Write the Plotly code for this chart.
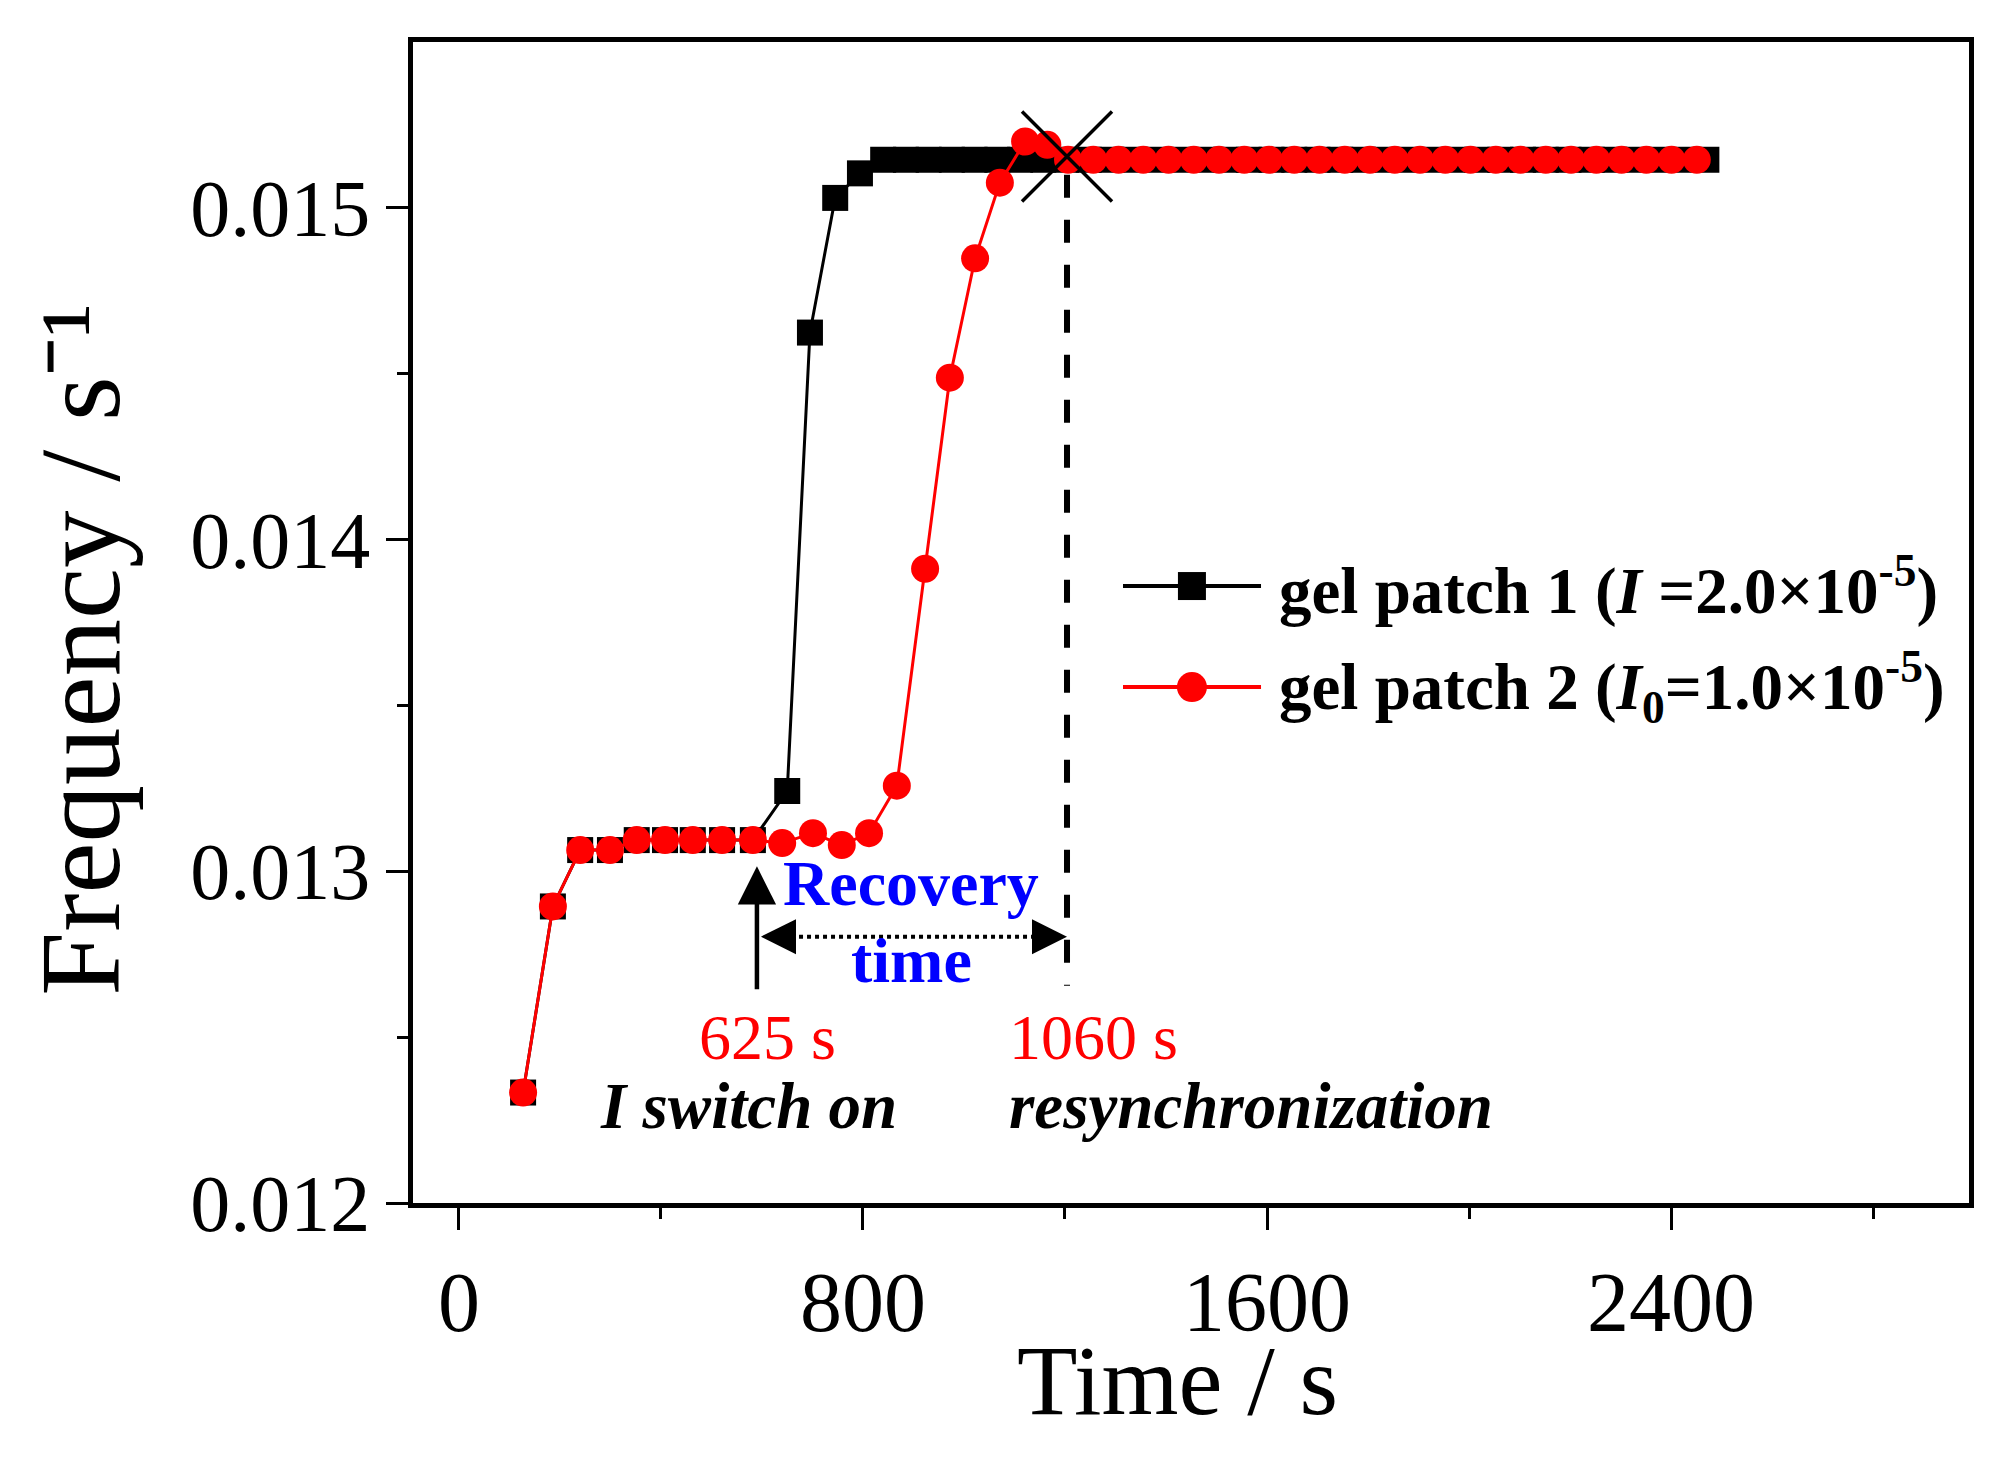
import plotly.graph_objects as go

# ---- data ----
time_patch1 = [127, 186, 240, 299, 352, 408, 463, 521, 582, 650, 695, 745, 794,
               840, 885, 930, 976, 1021, 1066, 1111, 1157, 1202, 1247, 1292, 1338,
               1383, 1428, 1473, 1519, 1564, 1609, 1654, 1700, 1745, 1790, 1835,
               1881, 1926, 1971, 2016, 2062, 2107, 2152, 2197, 2243, 2288, 2333,
               2378, 2424, 2470]
freq_patch1 = [0.012333, 0.012894, 0.013064, 0.013064, 0.013094, 0.013094, 0.013094,
               0.013094, 0.013094, 0.013242, 0.014624, 0.015030, 0.015104,
               0.015145, 0.015145, 0.015145, 0.015145, 0.015145, 0.015145, 0.015145,
               0.015145, 0.015145, 0.015145, 0.015145, 0.015145, 0.015145, 0.015145,
               0.015145, 0.015145, 0.015145, 0.015145, 0.015145, 0.015145, 0.015145,
               0.015145, 0.015145, 0.015145, 0.015145, 0.015145, 0.015145, 0.015145,
               0.015145, 0.015145, 0.015145, 0.015145, 0.015145, 0.015145, 0.015145,
               0.015145, 0.015145]

time_patch2 = [127, 186, 240, 299, 352, 408, 463, 521, 582, 640, 701, 758, 812, 867,
               923, 972, 1022, 1071, 1121, 1165, 1206, 1256, 1306, 1355, 1405, 1455,
               1505, 1555, 1604, 1654, 1704, 1754, 1804, 1853, 1903, 1953, 2003, 2053,
               2102, 2152, 2202, 2252, 2302, 2351, 2401, 2451]
freq_patch2 = [0.012333, 0.012894, 0.013064, 0.013064, 0.013094, 0.013094, 0.013094,
               0.013094, 0.013094, 0.013085, 0.013115, 0.013079, 0.013115, 0.013258,
               0.013912, 0.014488, 0.014848, 0.015076, 0.015200, 0.015190, 0.015145,
               0.015145, 0.015145, 0.015145, 0.015145, 0.015145, 0.015145, 0.015145,
               0.015145, 0.015145, 0.015145, 0.015145, 0.015145, 0.015145, 0.015145,
               0.015145, 0.015145, 0.015145, 0.015145, 0.015145, 0.015145, 0.015145,
               0.015145, 0.015145, 0.015145, 0.015145]

# annotation anchor points (axis units, as placed in the picture)
switch_on_time = 590          # labelled "625 s"
resync_time = [1204]          # labelled "1060 s"
resync_freq = [0.015155]

x_tick_vals = [0, 800, 1600, 2400]
x_tick_text = ["0", "800", "1600", "2400"]
y_tick_vals = [0.012, 0.013, 0.014, 0.015]
y_tick_text = ["0.012", "0.013", "0.014", "0.015"]

series_names = ["gel patch 1 (<i>I</i> =2.0×10<sup>-5</sup>)",
                "gel patch 2 (<i>I</i><sub>0</sub>=1.0×10<sup>-5</sup>)"]

FONT = "Liberation Serif, Times New Roman, serif"
RED = "#FF0000"

fig = go.Figure()
fig.add_trace(go.Scatter(x=time_patch1, y=freq_patch1, mode="lines+markers",
                         name=series_names[0],
                         line=dict(color="black", width=3),
                         marker=dict(symbol="square", size=26, color="black")))
fig.add_trace(go.Scatter(x=time_patch2, y=freq_patch2, mode="lines+markers",
                         name=series_names[1],
                         line=dict(color=RED, width=3),
                         marker=dict(symbol="circle", size=28, color=RED)))
fig.add_trace(go.Scatter(x=resync_time, y=resync_freq, mode="markers",
                         marker=dict(symbol="x-thin", size=90,
                                     line=dict(color="black", width=3.5)),
                         showlegend=False, hoverinfo="skip"))

# vertical dashed line at resynchronization
fig.add_shape(type="line", xref="x", yref="y", x0=resync_time[0], x1=resync_time[0],
              y0=0.01510, y1=0.012655, line=dict(color="black", width=6, dash="23px,22px"))
# dotted recovery-time line
fig.add_shape(type="line", xref="x", yref="y", x0=switch_on_time + 20, x1=resync_time[0] - 20,
              y0=0.012803, y1=0.012803, line=dict(color="black", width=4, dash="dot"))

ann = []
# up arrow at switch on
ann.append(dict(x=switch_on_time, y=0.013015, ax=switch_on_time, ay=0.01264,
                xref="x", yref="y", axref="x", ayref="y", text="", showarrow=True,
                arrowhead=2, arrowsize=1.7, arrowwidth=4.5, arrowcolor="black", standoff=0))
# horizontal arrow heads
ann.append(dict(x=switch_on_time + 8, y=0.012803, ax=36, ay=0, xref="x", yref="y",
                text="", showarrow=True, arrowhead=2, arrowsize=2.0, arrowwidth=3.5,
                arrowcolor="black", standoff=0))
ann.append(dict(x=resync_time[0], y=0.012803, ax=-36, ay=0, xref="x", yref="y",
                text="", showarrow=True, arrowhead=2, arrowsize=2.0, arrowwidth=3.5,
                arrowcolor="black", standoff=0))
# texts
ann.append(dict(x=895, y=0.012964, xref="x", yref="y", text="<b>Recovery</b>",
                showarrow=False, font=dict(family=FONT, size=64, color="#0000FF")))
ann.append(dict(x=897, y=0.012730, xref="x", yref="y", text="<b>time</b>",
                showarrow=False, font=dict(family=FONT, size=64, color="#0000FF")))
ann.append(dict(x=610, y=0.012500, xref="x", yref="y", text="625 s",
                showarrow=False, font=dict(family=FONT, size=64, color=RED)))
ann.append(dict(x=573, y=0.012293, xref="x", yref="y", text="<b><i>I switch on</i></b>",
                showarrow=False, font=dict(family=FONT, size=65, color="black")))
ann.append(dict(x=1257, y=0.012500, xref="x", yref="y", text="1060 s",
                showarrow=False, font=dict(family=FONT, size=64, color=RED)))
ann.append(dict(x=1569, y=0.012293, xref="x", yref="y", text="<b><i>resynchronization</i></b>",
                showarrow=False, font=dict(family=FONT, size=65, color="black")))

# axis titles
ann.append(dict(x=0.4916, y=-0.1525, xref="paper", yref="paper", xanchor="center",
                yanchor="middle", text="Time / s", showarrow=False,
                font=dict(family=FONT, size=99, color="black")))
ann.append(dict(x=-0.2135, y=0.4772, xref="paper", yref="paper", xanchor="center",
                yanchor="middle", text="Frequency / s\u207b\u00b9", textangle=-90,
                showarrow=False, font=dict(family=FONT, size=115, color="black")))

# manual legend (long line samples like the reference)
leg_rows = [(0.5314, "black", "square"), (0.4444, RED, "circle")]
for (ly, col, sym), name in zip(leg_rows, series_names):
    fig.add_shape(type="line", xref="paper", yref="paper", x0=0.4563, x1=0.5450,
                  y0=ly, y1=ly, line=dict(color=col, width=4))
    if sym == "square":
        fig.add_shape(type="rect", xref="paper", yref="paper", xsizemode="pixel",
                      ysizemode="pixel", xanchor=0.5006, yanchor=ly,
                      x0=-14, x1=14, y0=-14, y1=14, fillcolor=col, line=dict(width=0))
    else:
        fig.add_shape(type="circle", xref="paper", yref="paper", xsizemode="pixel",
                      ysizemode="pixel", xanchor=0.5006, yanchor=ly,
                      x0=-15, x1=15, y0=-15, y1=15, fillcolor=col, line=dict(width=0))
    ann.append(dict(x=0.5553, y=ly, xref="paper", yref="paper", xanchor="left",
                    yanchor="middle", text="<b>" + name + "</b>", showarrow=False,
                    font=dict(family=FONT, size=65, color="black")))

fig.update_layout(annotations=ann)

axis_common = dict(showgrid=False, zeroline=False, showline=True, linecolor="black",
                   linewidth=4.5, mirror=True, ticks="outside", tickcolor="black",
                   tickwidth=3, ticklen=22)

fig.update_xaxes(range=[-91, 2990], tickvals=x_tick_vals, ticktext=x_tick_text,
                 tickfont=dict(family=FONT, size=84, color="black"),
                 minor=dict(tickvals=[400, 1200, 2000, 2800], ticks="outside",
                            ticklen=11, tickwidth=3, tickcolor="black", showgrid=False),
                 **axis_common)
fig.update_yaxes(range=[0.012, 0.0155], tickvals=y_tick_vals, ticktext=y_tick_text,
                 tickfont=dict(family=FONT, size=80, color="black"),
                 minor=dict(tickvals=[0.0125, 0.0135, 0.0145], ticks="outside",
                            ticklen=11, tickwidth=3, tickcolor="black", showgrid=False),
                 **axis_common)

# The page body has an 8px default margin, so the figure is sized 16px smaller
# and margins reduced by 8px so the plot area lands where the reference has it.
fig.update_layout(width=1991, height=1453, showlegend=False,
                  margin=dict(l=405, r=30, t=34, b=258, autoexpand=False),
                  paper_bgcolor="white", plot_bgcolor="white",
                  font=dict(family=FONT, color="black"))

fig.write_html("out.html")
